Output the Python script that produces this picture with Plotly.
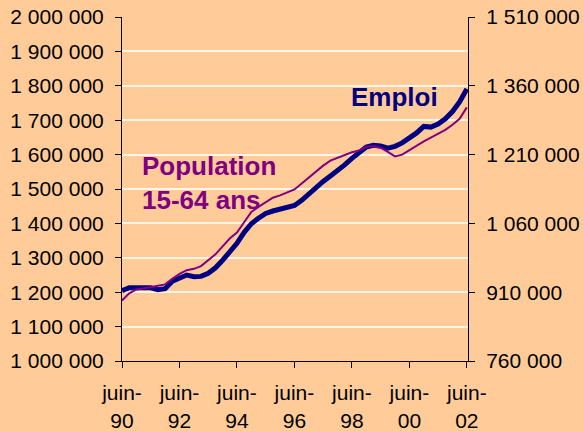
import plotly.graph_objects as go
import pandas as pd

# Quarterly observations, June 1990 to June 2002
dates = pd.date_range("1990-06-01", "2002-06-01", freq="3MS")

emploi = [
    1204000, 1213000, 1213000, 1213000, 1213000, 1207000, 1210000, 1232000,
    1243000, 1250000, 1245000, 1246000, 1255000, 1271000, 1293000, 1316000,
    1342000, 1374000, 1399000, 1415000, 1429000, 1436000, 1441000, 1445000,
    1452000, 1467000, 1487000, 1505000, 1522000, 1538000, 1553000, 1570000,
    1589000, 1606000, 1622000, 1627000, 1625000, 1619000, 1624000, 1634000,
    1647000, 1663000, 1682000, 1680000, 1689000, 1704000, 1725000, 1753000,
    1791000,
]

population_15_64 = [
    892000, 907500, 916000, 918000, 921000, 924000, 927000, 939000,
    950000, 958000, 961000, 967000, 979000, 992500, 1010000, 1027000,
    1040000, 1062000, 1085000, 1096000, 1107000, 1116000, 1121000, 1128000,
    1134000, 1147000, 1160000, 1173000, 1186000, 1197000, 1203000, 1209000,
    1215000, 1219000, 1227000, 1228000, 1225000, 1216000, 1206000, 1210000,
    1220000, 1230000, 1239000, 1247000, 1255000, 1264000, 1275000, 1288000,
    1313000,
]

x_tickvals = [f"{y}-06-01" for y in range(1990, 2003, 2)]
x_ticktext = [f"juin-<br>{str(y)[2:]}" for y in range(1990, 2003, 2)]

left_ticks = list(range(1000000, 2000001, 100000))
right_ticks = list(range(760000, 1510001, 150000))

def fmt(v):
    return f"{v:,}".replace(",", " ")

BG = "#FFCC99"
FONT = "Liberation Sans, Arial, sans-serif"

fig = go.Figure()

fig.add_trace(go.Scatter(
    x=dates, y=population_15_64, yaxis="y2", mode="lines",
    line=dict(color="#800080", width=2), name="Population 15-64 ans",
))
fig.add_trace(go.Scatter(
    x=dates, y=emploi, yaxis="y", mode="lines",
    line=dict(color="#000080", width=5), name="Emploi",
))

fig.update_layout(
    width=583, height=431,
    paper_bgcolor=BG, plot_bgcolor=BG,
    margin=dict(l=122, r=115, t=17, b=70),
    showlegend=False,
    font=dict(family=FONT, size=21, color="#000000"),
    xaxis=dict(
        range=["1990-06-01", "2002-06-16"],
        tickvals=x_tickvals, ticktext=x_ticktext,
        ticks="outside", ticklen=6, tickcolor="#000000",
        showline=True, linecolor="#000000", linewidth=1,
        showgrid=False, zeroline=False, automargin=False,
        tickfont=dict(size=21), ticklabelstandoff=7,
    ),
    yaxis=dict(
        range=[1000000, 2000000],
        tickvals=left_ticks, ticktext=[fmt(v) for v in left_ticks],
        ticks="outside", ticklen=6, tickcolor="#000000",
        showline=True, linecolor="#000000", linewidth=1,
        showgrid=True, gridcolor="#FFF4E8", gridwidth=1.5,
        zeroline=False, automargin=False, ticklabelstandoff=7,
    ),
    yaxis2=dict(
        range=[760000, 1510000], overlaying="y", side="right",
        tickvals=right_ticks, ticktext=[fmt(v) for v in right_ticks],
        ticks="outside", ticklen=6, tickcolor="#000000",
        showline=True, linecolor="#000000", linewidth=1,
        showgrid=False, zeroline=False, automargin=False, ticklabelstandoff=7,
    ),
    annotations=[
        dict(text="<b>Population<br>15-64 ans</b>", xref="paper", yref="paper",
             x=0.052, y=0.517, xanchor="left", yanchor="middle", align="left",
             showarrow=False, font=dict(size=26, color="#800080", family=FONT)),
        dict(text="<b>Emploi</b>", xref="paper", yref="paper",
             x=0.657, y=0.767, xanchor="left", yanchor="middle",
             showarrow=False, font=dict(size=26, color="#000080", family=FONT)),
    ],
)

fig.write_html("out.html")
